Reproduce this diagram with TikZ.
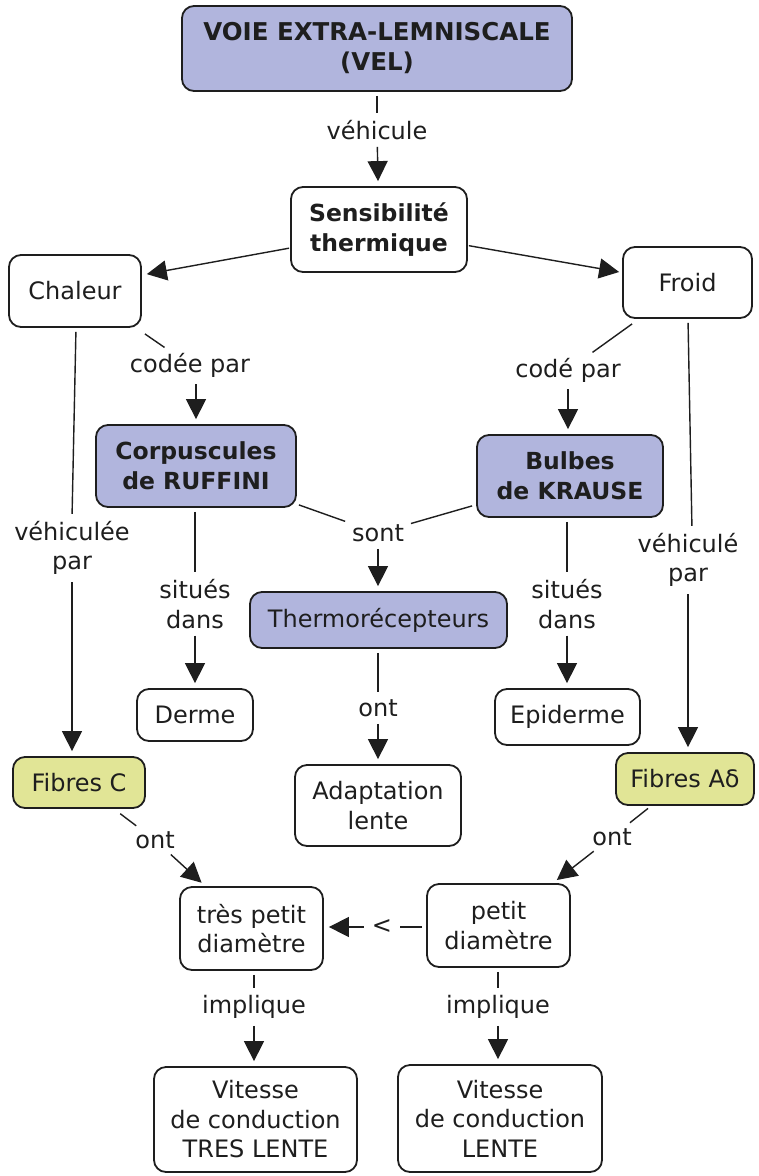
\documentclass[tikz,border=0pt]{standalone}
\usepackage{fontspec}
\setmainfont{DejaVu Sans}
\usetikzlibrary{arrows.meta}
\definecolor{lavfill}{RGB}{177,181,221}
\definecolor{ylwfill}{RGB}{225,229,150}
\definecolor{ink}{RGB}{30,30,30}
\begin{document}
\begin{tikzpicture}[x=1pt,y=-1pt,
  every node/.style={text=ink},
  txt/.style={font=\fontsize{24}{29.5}\selectfont},
  boldtxt/.style={font=\fontsize{23.5}{30}\selectfont\bfseries},
  box/.style={txt, draw=ink, line width=1.8pt, rounded corners=12pt, fill=white,
              align=center, inner sep=0pt},
  bluebox/.style={box, fill=lavfill},
  greenbox/.style={box, fill=ylwfill},
  lbl/.style={txt, align=center, inner sep=3pt},
  link/.style={draw=ink, line width=1.4pt, shorten <=4pt, shorten >=4pt},
  arr/.style={link, -{Triangle[length=20pt,width=20pt]}, shorten >=5pt}
]
\fill[white] (0,0) rectangle (759,1176);
\useasboundingbox (0,0) rectangle (759,1176);

% concepts
\node[bluebox, boldtxt, font=\fontsize{24.5}{30}\selectfont\bfseries,
      minimum width=390pt, minimum height=85pt] (vel) at (377,48.5) {VOIE EXTRA-LEMNISCALE\\(VEL)};
\node[box, boldtxt, minimum width=176pt, minimum height=85pt] (sens) at (379,229.5) {Sensibilité\\thermique};
\node[box, minimum width=132pt, minimum height=72pt] (chal) at (75,291) {Chaleur};
\node[box, minimum width=129pt, minimum height=71pt] (froid) at (687.5,282.5) {Froid};
\node[bluebox, boldtxt, minimum width=200pt, minimum height=82pt] (corp) at (196,466) {Corpuscules\\de RUFFINI};
\node[bluebox, boldtxt, minimum width=186pt, minimum height=82pt] (bulb) at (570,476) {Bulbes\\de KRAUSE};
\node[bluebox, minimum width=257pt, minimum height=56pt] (thermo) at (378.5,620) {Thermorécepteurs};
\node[box, minimum width=116pt, minimum height=52pt] (derme) at (195,715) {Derme};
\node[box, minimum width=145pt, minimum height=56pt] (epid) at (567.5,717) {Epiderme};
\node[box, minimum width=166pt, minimum height=81pt] (adapt) at (378,805.5) {Adaptation\\lente};
\node[greenbox, minimum width=132pt, minimum height=51pt] (fibc) at (79,782.5) {Fibres C};
\node[greenbox, minimum width=138pt, minimum height=52pt] (fiba) at (685,779) {Fibres Aδ};
\node[box, minimum width=143pt, minimum height=83pt] (tpd) at (251.5,928.5) {très petit\\diamètre};
\node[box, minimum width=143pt, minimum height=83pt] (pd) at (498.5,925.5) {petit\\diamètre};
\node[box, minimum width=203pt, minimum height=105pt] (vtl) at (255.5,1119.5) {Vitesse\\de conduction\\TRES LENTE};
\node[box, minimum width=204pt, minimum height=107pt] (vl) at (500,1118.5) {Vitesse\\de conduction\\LENTE};

% linking phrases
\node[lbl] (l1) at (377,130) {véhicule};
\node[lbl] (l2) at (190,365) {codée par};
\node[lbl] (l3) at (568,370) {codé par};
\node[lbl] (l4) at (378,533) {sont};
\node[lbl] (l5) at (195,604) {situés\\dans};
\node[lbl] (l6) at (567,604) {situés\\dans};
\node[lbl] (l7) at (378,708) {ont};
\node[lbl] (l8) at (72,548) {véhiculée\\par};
\node[lbl] (l9) at (688,560) {véhiculé\\par};
\node[lbl] (l10) at (155,840) {ont};
\node[lbl] (l11) at (612,837) {ont};
\node[lbl, inner sep=8pt] (l12) at (382,927) {<};
\node[lbl] (l13) at (254,1007) {implique};
\node[lbl] (l14) at (498,1007) {implique};

% connections
\draw[link] (vel) -- (l1);
\draw[arr] (l1) -- (sens);

\draw[arr, shorten <=1pt] ([yshift=-18.5pt]sens.west) -- ([yshift=16pt]chal.east);
\draw[arr, shorten <=1pt, shorten >=3pt] ([yshift=-16pt]sens.east) -- ([yshift=10pt]froid.west);

\draw[link, shorten <=0pt] ([shift={(3pt,-6pt)}]chal.south east) -- (l2);
\draw[arr] (l2.south -| corp.north) -- (corp.north);

\draw[link, shorten <=0pt] ([shift={(10pt,-5pt)}]froid.south west) -- (l3);
\draw[arr] (l3.south) -- (l3.south |- bulb.north);

\draw[link, shorten <=0pt] ([shift={(2pt,3pt)}]corp.south east) -- (l4);
\draw[link, shorten <=0pt] ([shift={(-4pt,12pt)}]bulb.south west) -- (l4);
\draw[arr] (l4.south) -- (l4.south |- thermo.north);

\draw[link] (l5.north |- corp.south) -- (l5.north);
\draw[arr] (l5.south) -- (l5.south |- derme.north);

\draw[link] (l6.north |- bulb.south) -- (l6.north);
\draw[arr] (l6.south) -- (l6.south |- epid.north);

\draw[link] (l7.north |- thermo.south) -- (l7.north);
\draw[arr] (l7.south) -- (l7.south |- adapt.north);

\draw[link] ([xshift=4pt]l8.north |- chal.south) -- (l8.north);
\draw[arr] (l8.south) -- (l8.south |- fibc.north);

\draw[link] (l9.north |- froid.south) -- ([xshift=4pt]l9.north);
\draw[arr] (l9.south) -- (l9.south |- fiba.north);

\draw[link, shorten <=8pt] (fibc) -- (l10);
\draw[arr] (l10) -- (tpd);

\draw[link] (fiba) -- (l11);
\draw[arr] (l11) -- (pd);

\draw[link, shorten >=0pt] (l12 -| pd.west) -- (l12);
\draw[arr, shorten <=0pt] (l12) -- (l12 -| tpd.east);

\draw[link] (l13.north |- tpd.south) -- (l13.north);
\draw[arr] (l13.south) -- (l13.south |- vtl.north);

\draw[link] (l14.north |- pd.south) -- (l14.north);
\draw[arr] (l14.south) -- (l14.south |- vl.north);
\end{tikzpicture}
\end{document}
